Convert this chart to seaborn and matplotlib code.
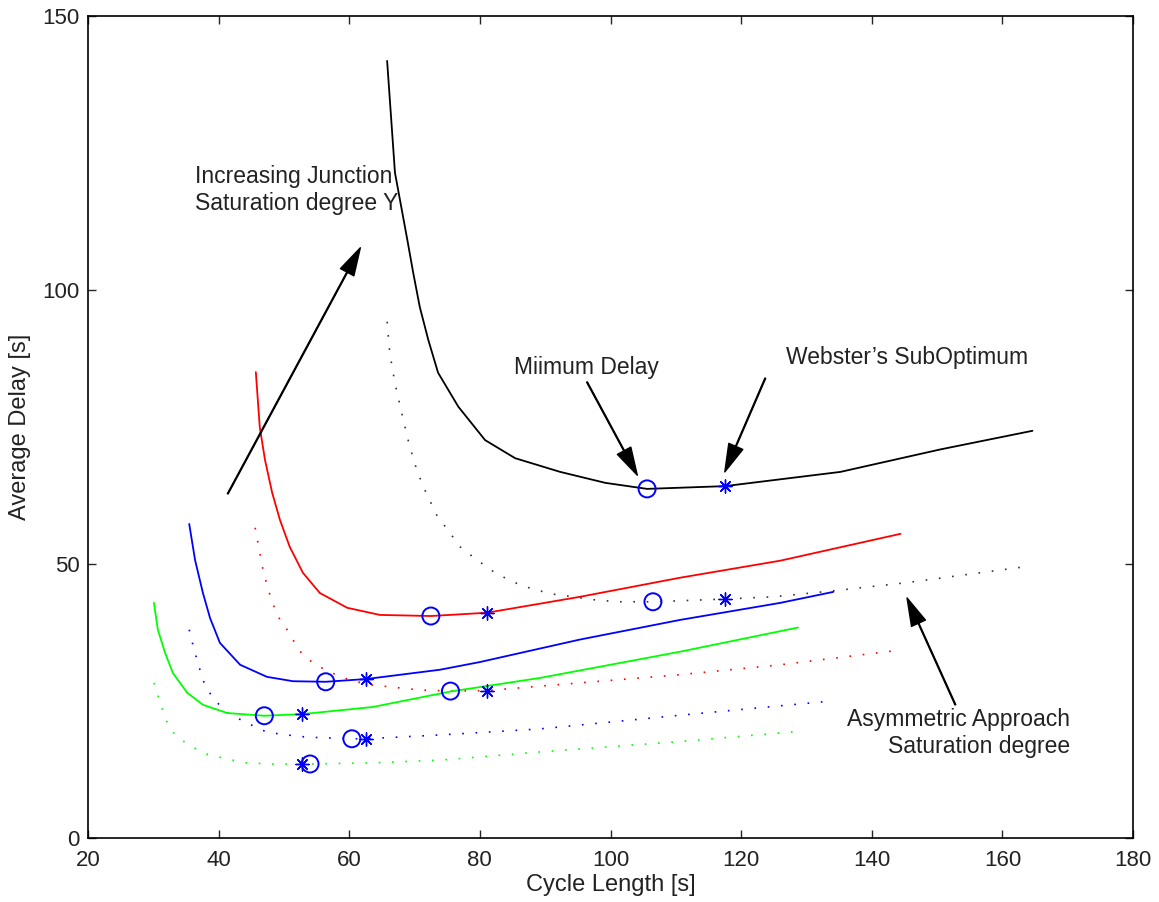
import matplotlib
matplotlib.use("Agg")
import matplotlib.pyplot as plt
import seaborn as sns
import pandas as pd

# curves: cycle length [s] -> average delay [s]
black_x = [65.8, 67.0, 68.9, 69.8, 70.8, 72.1, 73.6, 76.7, 80.8, 85.4, 92.3, 99.2, 105.6, 117.5, 135.2, 150.5, 164.6]
black_y = [141.8, 121.4, 109.1, 103.1, 96.9, 90.9, 84.9, 78.7, 72.6, 69.3, 66.8, 64.8, 63.7, 64.2, 66.8, 70.9, 74.3]
black_dot_x = [65.8, 66.2, 67.0, 68.1, 69.2, 70.2, 71.3, 73.4, 77.0, 79.6, 82.3, 85.1, 88.1, 91.2, 94.3, 97.9, 101.5,
               106.5, 117.5, 124.9, 134.1, 145.4, 163.5]
black_dot_y = [94.2, 88.5, 83.0, 77.2, 71.7, 67.7, 64.2, 58.9, 53.1, 50.7, 48.4, 46.7, 45.4, 44.5, 44.0, 43.4, 43.1,
               43.1, 43.6, 44.0, 45.1, 46.6, 49.5]

red_x = [45.7, 46.3, 47.1, 48.2, 49.4, 50.9, 52.9, 55.5, 59.7, 64.7, 72.5, 81.1, 95.3, 110.7, 126.0, 144.4]
red_y = [85.0, 75.0, 69.0, 63.0, 58.0, 53.1, 48.4, 44.7, 42.0, 40.7, 40.5, 41.1, 44.0, 47.5, 50.6, 55.5]
red_dot_x = [45.6, 46.2, 46.8, 47.6, 48.6, 49.4, 50.5, 52.0, 52.9, 54.3, 55.5, 57.1, 58.6, 61.2, 63.6, 70.8, 75.5,
             81.1, 95.3, 110.7, 126.0, 144.4]
red_dot_y = [56.6, 52.7, 48.9, 45.3, 41.8, 39.8, 38.0, 34.9, 33.4, 32.1, 31.2, 30.3, 29.4, 28.5, 27.9, 27.0, 26.8,
             26.9, 28.3, 29.8, 31.6, 34.3]

blue_x = [35.5, 36.4, 37.6, 38.7, 40.2, 43.3, 47.4, 51.4, 56.4, 62.6, 73.9, 80.0, 95.3, 110.7, 126.0, 134.1]
blue_y = [57.3, 50.7, 44.7, 40.1, 35.6, 31.6, 29.4, 28.6, 28.5, 29.0, 30.7, 32.1, 36.2, 39.8, 42.9, 44.9]
blue_dot_x = [35.5, 35.9, 36.7, 37.6, 39.1, 41.4, 44.3, 47.4, 50.5, 53.5, 60.4, 62.6, 73.9, 89.2, 110.7, 133.9]
blue_dot_y = [38.0, 36.0, 32.5, 28.8, 25.5, 22.8, 21.0, 19.3, 18.8, 18.4, 18.1, 18.1, 18.8, 19.9, 22.4, 25.0]

green_x = [30.1, 30.7, 31.8, 33.0, 35.2, 37.6, 41.3, 47.0, 52.8, 63.6, 75.4, 89.2, 110.7, 128.7]
green_y = [42.9, 38.0, 33.8, 30.1, 26.5, 24.3, 22.8, 22.3, 22.6, 23.9, 26.7, 29.2, 34.0, 38.4]
green_dot_x = [30.1, 30.6, 31.0, 32.1, 33.0, 35.3, 38.2, 41.3, 44.3, 47.9, 52.8, 54.0, 63.6, 73.9, 89.2, 110.7, 128.3]
green_dot_y = [28.3, 26.5, 24.6, 21.2, 19.3, 17.0, 15.3, 14.4, 13.7, 13.5, 13.5, 13.5, 13.7, 14.2, 15.7, 17.6, 19.4]

# minimum delay (circles) and Webster's sub-optimum (asterisks)
min_x = [105.6, 106.5, 72.5, 75.5, 56.4, 60.4, 47.0, 54.0]
min_y = [63.7, 43.1, 40.5, 26.8, 28.5, 18.1, 22.3, 13.5]
web_x = [117.5, 117.5, 81.1, 81.1, 62.6, 62.6, 52.8, 52.8]
web_y = [64.2, 43.6, 41.1, 26.9, 29.0, 18.1, 22.6, 13.5]

sns.set_style("ticks")
plt.rcParams['font.family'] = ['Liberation Sans', 'DejaVu Sans']

fig = plt.figure(figsize=(11.59, 9.02), dpi=100)
ax = fig.add_axes([0.0759, 0.071, 0.9017, 0.9113])

dotted = (0, (1, 7))
series = [
    (black_x, black_y, 'black', '-'), (black_dot_x, black_dot_y, '#333333', dotted),
    (red_x, red_y, 'red', '-'), (red_dot_x, red_dot_y, 'red', dotted),
    (blue_x, blue_y, 'blue', '-'), (blue_dot_x, blue_dot_y, 'blue', dotted),
    (green_x, green_y, '#00ff00', '-'), (green_dot_x, green_dot_y, '#00ff00', dotted),
]
for xs, ys, c, ls in series:
    df = pd.DataFrame({'x': xs, 'y': ys})
    sns.lineplot(data=df, x='x', y='y', sort=False, estimator=None, color=c,
                 linestyle=ls, linewidth=1.3 if ls == '-' else 1.2, ax=ax)

sns.scatterplot(x=min_x, y=min_y, marker='o', s=150, facecolors='none',
                edgecolor='blue', linewidth=1.4, ax=ax, zorder=5)
sns.scatterplot(x=web_x, y=web_y, marker=(8, 2, 0), s=90, color='blue',
                edgecolor='blue', linewidth=1.0, ax=ax, zorder=5)

arrow = dict(facecolor='black', edgecolor='black', width=0.6, headwidth=11,
             headlength=20, shrink=0)
fs = 16.5
ax.annotate('', xy=(61.7, 107.7), xytext=(41.4, 62.8), arrowprops=arrow)
ax.text(36.4, 118.2, 'Increasing Junction\nSaturation degree Y', fontsize=fs,
        ha='left', va='center', linespacing=1.2, color='#222222')
ax.annotate('', xy=(104.1, 66.2), xytext=(96.4, 83.2), arrowprops=arrow)
ax.text(96.3, 85.8, 'Miimum Delay', fontsize=fs, ha='center', va='center', color='#222222')
ax.annotate('', xy=(117.5, 66.8), xytext=(123.7, 83.9), arrowprops=arrow)
ax.text(145.4, 87.6, "Webster\u2019s SubOptimum", fontsize=fs, ha='center', va='center',
        color='#222222')
ax.annotate('', xy=(145.4, 43.8), xytext=(152.8, 24.3), arrowprops=arrow)
ax.text(170.4, 19.2, 'Asymmetric Approach\nSaturation degree', fontsize=fs,
        ha='right', va='center', linespacing=1.2, multialignment='right', color='#222222')

ax.set_xlim(20, 180)
ax.set_ylim(0, 150)
ax.set_xticks(range(20, 181, 20))
ax.set_yticks([0, 50, 100, 150])
ax.tick_params(direction='in', top=True, right=True, labelsize=16, length=6, width=1,
               labelcolor='#222222')
ax.tick_params(axis='x', pad=9)
ax.tick_params(axis='y', pad=6)
ax.set_xlabel('Cycle Length [s]', fontsize=17, labelpad=2, color='#222222')
ax.set_ylabel('Average Delay [s]', fontsize=17, labelpad=8, color='#222222')
for sp in ax.spines.values():
    sp.set_linewidth(1.2)
    sp.set_color('black')

fig.savefig('out.png', dpi=100)
